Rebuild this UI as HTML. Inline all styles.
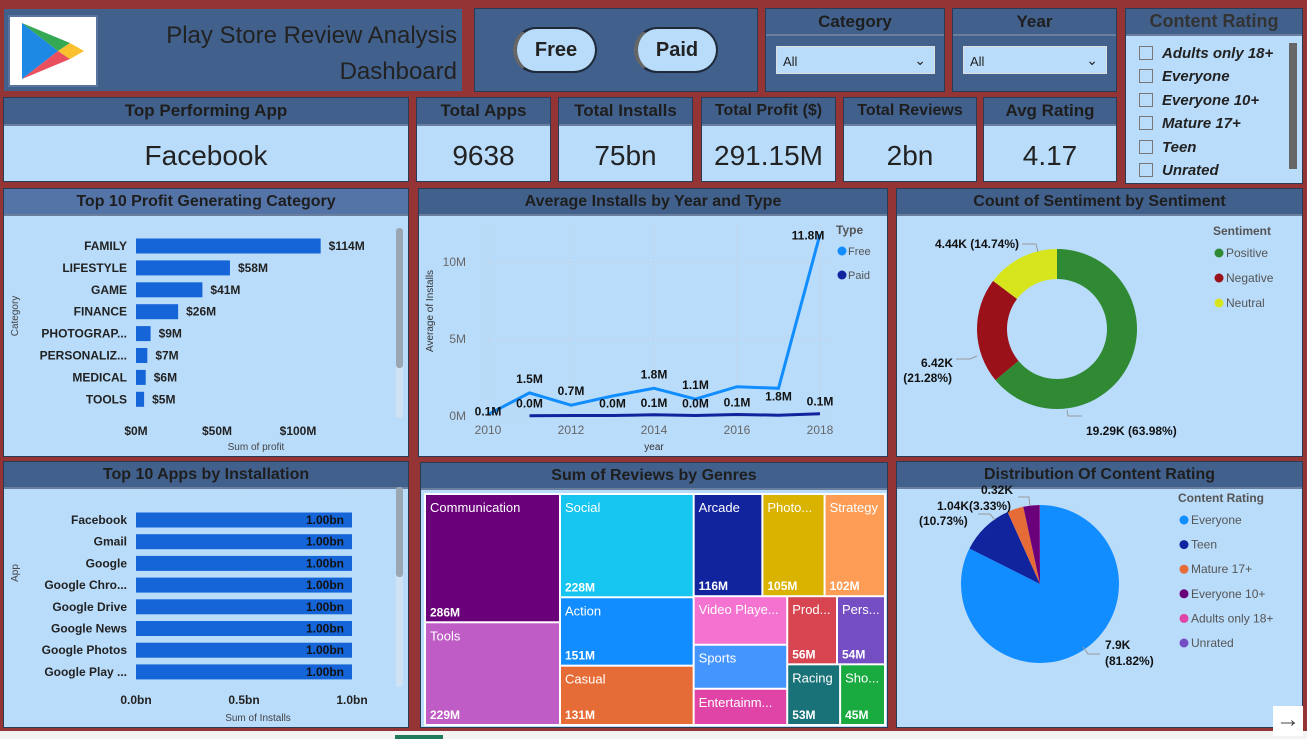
<!DOCTYPE html>
<html><head><meta charset="utf-8">
<style>
*{margin:0;padding:0;box-sizing:border-box}
body{width:1307px;height:739px;background:#953434;position:relative;overflow:hidden;font-family:"Liberation Sans",sans-serif;color:#222}
.p{position:absolute;background:#b9dcfb;border:1px solid #2a3b55}
.h{position:absolute;left:0;right:0;top:0;background:#41608c;font-weight:bold;text-align:center;color:#1e1e1e;border-bottom:2px solid #6a7f9e;white-space:nowrap}
.dark{background:#41608c}
.kv{position:absolute;left:0;right:0;text-align:center;font-size:28px;color:#222}
svg text{font-family:"Liberation Sans",sans-serif}
</style></head><body>
<div class="p dark" style="left:3px;top:8px;width:460px;height:84px;border-color:#953434">
  <div style="position:absolute;left:4px;top:6px;width:90px;height:72px;background:#fff;border:2px solid #5a74a0">
    <svg width="86" height="68" viewBox="0 0 86 68"><polygon points="12,6 48,34 12,62" fill="#1e88e5"/><polygon points="12,6 60,26 48,34" fill="#34a853"/><polygon points="12,62 60,42 48,34" fill="#ea4f5d"/><polygon points="48,34 60,26 74,34 60,42" fill="#fbc02d"/></svg>
  </div>
  <div style="position:absolute;right:5px;top:9px;font-size:24px;line-height:36px;text-align:right;color:#222">Play Store Review Analysis<br>Dashboard</div>
</div>
<div class="p dark" style="left:474px;top:8px;width:284px;height:84px">
  <div style="position:absolute;left:38px;top:18px;width:84px;height:46px;border-radius:23px;background:#b9dcfb;border:2px solid #1e2a3a;border-left:4px solid #666;font-weight:bold;font-size:20px;text-align:center;line-height:42px">Free</div>
  <div style="position:absolute;left:159px;top:18px;width:84px;height:46px;border-radius:23px;background:#b9dcfb;border:2px solid #1e2a3a;border-left:4px solid #666;font-weight:bold;font-size:20px;text-align:center;line-height:42px">Paid</div>
</div>
<div class="p dark" style="left:765px;top:8px;width:180px;height:84px">
  <div class="h" style="height:27px;font-size:17px;line-height:25px">Category</div>
  <div style="position:absolute;left:10px;top:37px;width:159px;height:28px;background:#b9dcfb;border:1px solid #ddd;font-size:13px;line-height:30px;padding-left:6px">All<span style="position:absolute;right:8px;top:-2px;font-size:14px">&#8964;</span></div>
</div>
<div class="p dark" style="left:952px;top:8px;width:165px;height:84px">
  <div class="h" style="height:27px;font-size:17px;line-height:25px">Year</div>
  <div style="position:absolute;left:10px;top:37px;width:144px;height:28px;background:#b9dcfb;border:1px solid #ddd;font-size:13px;line-height:30px;padding-left:6px">All<span style="position:absolute;right:8px;top:-2px;font-size:14px">&#8964;</span></div>
</div>
<div class="p" style="left:1125px;top:8px;width:178px;height:176px">
  <div class="h" style="height:27px;font-size:18px;line-height:25px;color:#333">Content Rating</div>
  <div id="crlist"></div>
  <div style="position:absolute;left:163px;top:34px;width:8px;height:126px;background:#666"></div>
</div>
<div class="p" style="left:3px;top:97px;width:406px;height:85px"><div class="h" style="height:28px;font-size:17px;line-height:26px">Top Performing App</div><div class="kv" style="top:42px">Facebook</div></div>
<div class="p" style="left:416px;top:97px;width:135px;height:85px"><div class="h" style="height:28px;font-size:17px;line-height:26px">Total Apps</div><div class="kv" style="top:42px">9638</div></div>
<div class="p" style="left:558px;top:97px;width:135px;height:85px"><div class="h" style="height:28px;font-size:17px;line-height:26px">Total Installs</div><div class="kv" style="top:42px">75bn</div></div>
<div class="p" style="left:701px;top:97px;width:135px;height:85px"><div class="h" style="height:28px;font-size:16px;line-height:26px">Total Profit ($)</div><div class="kv" style="top:42px">291.15M</div></div>
<div class="p" style="left:843px;top:97px;width:134px;height:85px"><div class="h" style="height:28px;font-size:16px;line-height:26px">Total Reviews</div><div class="kv" style="top:42px">2bn</div></div>
<div class="p" style="left:983px;top:97px;width:134px;height:85px"><div class="h" style="height:28px;font-size:17px;line-height:26px">Avg Rating</div><div class="kv" style="top:42px">4.17</div></div>
<div class="p" style="left:3px;top:188px;width:406px;height:269px"><div class="h" style="height:27px;font-size:16px;line-height:25px;background:#5474a8">Top 10 Profit Generating Category</div></div>
<div class="p" style="left:418px;top:188px;width:470px;height:269px"><div class="h" style="height:27px;font-size:16px;line-height:25px">Average Installs by Year and Type</div></div>
<div class="p" style="left:896px;top:188px;width:407px;height:269px"><div class="h" style="height:27px;font-size:16px;line-height:25px">Count of Sentiment by Sentiment</div></div>
<div class="p" style="left:3px;top:461px;width:406px;height:267px"><div class="h" style="height:27px;font-size:16px;line-height:25px">Top 10 Apps by Installation</div></div>
<div class="p" style="left:420px;top:462px;width:468px;height:266px"><div class="h" style="height:27px;font-size:16px;line-height:25px">Sum of Reviews by Genres</div></div>
<div class="p" style="left:896px;top:461px;width:407px;height:267px"><div class="h" style="height:27px;font-size:16px;line-height:25px">Distribution Of Content Rating</div></div>
<div style="position:absolute;left:0;top:731px;width:1307px;height:8px;background:#f3f3f3"><div style="position:absolute;left:395px;top:4px;width:48px;height:4px;background:#1f7a5a"></div></div>
<div style="position:absolute;left:1273px;top:706px;width:30px;height:30px;background:#fff;font-size:24px;line-height:28px;text-align:center;color:#444">&#8594;</div>

<svg id="c" width="1307" height="739" style="position:absolute;left:0;top:0" xmlns="http://www.w3.org/2000/svg"></svg>

<script>
const crItems=["Adults only 18+","Everyone","Everyone 10+","Mature 17+","Teen","Unrated"];
const profitCats=["FAMILY","LIFESTYLE","GAME","FINANCE","PHOTOGRAP...","PERSONALIZ...","MEDICAL","TOOLS"];
const profitVals=[114,58,41,26,9,7,6,5];
const profitTicks=[0,50,100];
const appNames=["Facebook","Gmail","Google","Google Chro...","Google Drive","Google News","Google Photos","Google Play ..."];
const appVals=[1.0,1.0,1.0,1.0,1.0,1.0,1.0,1.0];
const appTicks=[0,0.5,1.0];
const years=[2010,2011,2012,2013,2014,2015,2016,2017,2018];
const freeVals=[0.1,1.5,0.7,1.3,1.8,1.1,1.9,1.8,11.8];
const freeLabels=["0.1M","1.5M","0.7M","","1.8M","1.1M","","1.8M","11.8M"];
const paidYears=[2011,2012,2013,2014,2015,2016,2017,2018];
const paidVals=[0.02,0.03,0.03,0.08,0.03,0.1,0.05,0.15];
const paidLabels=["0.0M","","0.0M","0.1M","0.0M","0.1M","","0.1M"];
const yTicks=[0,5,10];
const xTicks=[2010,2012,2014,2016,2018];
const sentNames=["Positive","Negative","Neutral"];
const sentVals=[19.29,6.42,4.44];
const sentLabels=["19.29K (63.98%)","6.42K (21.28%)","4.44K (14.74%)"];
const crNames=["Everyone","Teen","Mature 17+","Everyone 10+","Adults only 18+","Unrated"];
const crVals=[7.9,1.04,0.32,0.32,0.003,0.002];
const genreNames=["Communication","Tools","Social","Action","Casual","Arcade","Photo...","Strategy","Video Playe...","Sports","Entertainm...","Prod...","Pers...","Racing","Sho..."];
const genreVals=[286,229,228,151,131,116,105,102,75,68,56,56,54,53,45];
const genreLabels=["286M","229M","228M","151M","131M","116M","105M","102M","","","","56M","54M","53M","45M"];

const svg=document.getElementById('c');const NS='http://www.w3.org/2000/svg';
function el(t,a,txt){const e=document.createElementNS(NS,t);for(const k in a)e.setAttribute(k,a[k]);if(txt!==undefined)e.textContent=txt;svg.appendChild(e);return e;}

const crl=document.getElementById('crlist');
crItems.forEach((n,i)=>{const d=document.createElement('div');


d.style.cssText=`position:absolute;left:13px;top:${37+i*23.4}px;font-size:15px;font-weight:bold;font-style:italic;white-space:nowrap;line-height:16px`;
d.innerHTML=`<span style="display:inline-block;width:14px;height:14px;border:1px solid #777;vertical-align:-2px;margin-right:9px"></span>${n}`;crl.appendChild(d);});

(function(){const x0=136,sc=1.62,y0=246,step=21.9,bh=15;
const xs=v=>x0+v*sc;
profitTicks.forEach(t=>{el('line',{x1:xs(t),x2:xs(t),y1:225,y2:418,stroke:'#c8d8e8','stroke-dasharray':'1,3'});
const tl=el('text',{x:xs(t),y:435,'text-anchor':'middle','font-size':12,'font-weight':'bold',fill:'#222'},'$'+t+'M');});
profitCats.forEach((c,i)=>{const y=y0+i*step;
const l=el('text',{x:127,y:y+4,'text-anchor':'end','font-size':12,'font-weight':'bold',fill:'#222'},c);
const r=el('rect',{x:x0,y:y-bh/2,width:profitVals[i]*sc,height:bh,fill:'#1565d8'});
const v=el('text',{x:xs(profitVals[i])+8,y:y+4,'font-size':12,'font-weight':'bold',fill:'#222'},'$'+profitVals[i]+'M');});
const t=el('text',{x:256,y:450,'text-anchor':'middle','font-size':10,fill:'#444'},'Sum of profit');
const yt=el('text',{x:0,y:0,transform:'translate(18,316) rotate(-90)','text-anchor':'middle','font-size':10,fill:'#444'},'Category');
const sb=el('rect',{x:396,y:228,width:7,height:190,rx:3,fill:'#cfe2f3'});
const th=el('rect',{x:396,y:228,width:7,height:140,rx:3,fill:'#9aa6b2'});
})();

(function(){const x0=136,sc=216,y0=520,step=21.7,bh=15;const xs=v=>x0+v*sc;
appTicks.forEach(t=>{el('line',{x1:xs(t),x2:xs(t),y1:490,y2:690,stroke:'#c8d8e8','stroke-dasharray':'1,3'});
const tl=el('text',{x:xs(t),y:704,'text-anchor':'middle','font-size':12,'font-weight':'bold',fill:'#222'},t.toFixed(1)+'bn');});
appNames.forEach((n,i)=>{const y=y0+i*step;
const l=el('text',{x:127,y:y+4,'text-anchor':'end','font-size':12,'font-weight':'bold',fill:'#222'},n);
const r=el('rect',{x:x0,y:y-bh/2,width:appVals[i]*sc,height:bh,fill:'#1565d8'});
const v=el('text',{x:xs(appVals[i])-8,y:y+4,'text-anchor':'end','font-size':12,'font-weight':'bold',fill:'#111'},appVals[i].toFixed(2)+'bn');});
const t=el('text',{x:258,y:721,'text-anchor':'middle','font-size':10,fill:'#444'},'Sum of Installs');
const yt=el('text',{x:0,y:0,transform:'translate(18,573) rotate(-90)','text-anchor':'middle','font-size':10,fill:'#444'},'App');
el('rect',{x:396,y:487,width:7,height:200,rx:3,fill:'#cfe2f3'});
const th=el('rect',{x:396,y:487,width:7,height:90,rx:3,fill:'#9aa6b2'});
})();

(function(){const xs=y=>488+(y-2010)*41.5, ys=v=>416-v*15.4;
yTicks.forEach(t=>{el('line',{x1:488,x2:830,y1:ys(t),y2:ys(t),stroke:'#d8c8c0','stroke-dasharray':'1,3'});
const l=el('text',{x:466,y:ys(t)+4,'text-anchor':'end','font-size':12,fill:'#666'},t+'M');});
xTicks.forEach(t=>{el('line',{x1:xs(t),x2:xs(t),y1:225,y2:416,stroke:'#d8c8c0','stroke-dasharray':'1,3'});
const l=el('text',{x:xs(t),y:434,'text-anchor':'middle','font-size':12,fill:'#666'},t);});
const fp=el('polyline',{points:years.map((y,i)=>xs(y)+','+ys(freeVals[i])).join(' '),fill:'none',stroke:'#118dff','stroke-width':3});
const pp=el('polyline',{points:paidYears.map((y,i)=>xs(y)+','+ys(paidVals[i])).join(' '),fill:'none',stroke:'#12239e','stroke-width':3});
years.forEach((y,i)=>{if(!freeLabels[i])return;let ly=ys(freeVals[i])-10;if(i===0)ly=ys(freeVals[i])+1;if(i===7)ly=ys(freeVals[i])+12;if(i===8)ly=ys(freeVals[i])+5;
const l=el('text',{x:xs(y)-(i===8?12:0),y:ly,'text-anchor':'middle','font-size':12,'font-weight':'bold',fill:'#111'},freeLabels[i]);});
paidYears.forEach((y,i)=>{if(!paidLabels[i])return;const l=el('text',{x:xs(y),y:ys(paidVals[i])-8,'text-anchor':'middle','font-size':12,'font-weight':'bold',fill:'#111'},paidLabels[i]);});
const at=el('text',{x:0,y:0,transform:'translate(433,311) rotate(-90)','text-anchor':'middle','font-size':10,fill:'#333'},'Average of Installs');
const xt=el('text',{x:654,y:450,'text-anchor':'middle','font-size':10,fill:'#333'},'year');
el('text',{x:836,y:234,'font-size':12,'font-weight':'bold',fill:'#555'},'Type');
[['Free','#118dff'],['Paid','#12239e']].forEach((d,i)=>{const c=el('circle',{cx:842,cy:251+i*24,r:4.5,fill:d[1]});
const t=el('text',{x:848,y:255+i*24,'font-size':11,fill:'#555'},d[0]);});
})();

function arc(cx,cy,r,ri,a0,a1){const p=(a,R)=>[cx+R*Math.sin(a),cy-R*Math.cos(a)];const lg=(a1-a0)>Math.PI?1:0;
const [x0,y0]=p(a0,r),[x1,y1]=p(a1,r);if(ri>0){const [x2,y2]=p(a1,ri),[x3,y3]=p(a0,ri);
return `M${x0},${y0}A${r},${r} 0 ${lg} 1 ${x1},${y1}L${x2},${y2}A${ri},${ri} 0 ${lg} 0 ${x3},${y3}Z`;}
return `M${cx},${cy}L${x0},${y0}A${r},${r} 0 ${lg} 1 ${x1},${y1}Z`;}

(function(){const cx=1057,cy=329,r=80,ri=50,cols=['#2f8a33','#9b1119','#d7e61c'];const tot=sentVals.reduce((a,b)=>a+b,0);let a=0;
sentVals.forEach((v,i)=>{const a1=a+v/tot*2*Math.PI;const p=el('path',{d:arc(cx,cy,r,ri,a,a1),fill:cols[i]});a=a1;});
const l1=el('text',{x:1086,y:435,'font-size':12,'font-weight':'bold',fill:'#111'},sentLabels[0]);
el('polyline',{points:'1067,410 1068,416 1082,416',fill:'none',stroke:'#999'});
const l2a=el('text',{x:953,y:367,'text-anchor':'end','font-size':12,'font-weight':'bold',fill:'#111'},'6.42K');
el('text',{x:952,y:382,'text-anchor':'end','font-size':12,'font-weight':'bold',fill:'#111'},'(21.28%)');
el('polyline',{points:'956,359 970,359 977,356',fill:'none',stroke:'#999'});
const l3=el('text',{x:1019,y:248,'text-anchor':'end','font-size':12,'font-weight':'bold',fill:'#111'},sentLabels[2]);
el('polyline',{points:'1022,244 1036,244 1038,252',fill:'none',stroke:'#999'});
el('text',{x:1213,y:235,'font-size':12,'font-weight':'bold',fill:'#555'},'Sentiment');
sentNames.forEach((n,i)=>{const c=el('circle',{cx:1219,cy:253+i*25,r:4.5,fill:cols[i]});
const t=el('text',{x:1226,y:257+i*25,'font-size':12,fill:'#555'},n);});
})();

(function(){const cx=1040,cy=584,r=79,cols=['#118dff','#12239e','#e66c37','#6b007b','#e044a7','#744ec2'];const tot=crVals.reduce((a,b)=>a+b,0);let a=0;
crVals.forEach((v,i)=>{const a1=a+v/tot*2*Math.PI;const p=el('path',{d:arc(cx,cy,r,0,a,a1),fill:cols[i]});a=a1;});
const L=(x,y,t,an)=>{const e=el('text',{x:x,y:y,'text-anchor':an||'start','font-size':12,'font-weight':'bold',fill:'#111'},t);};
L(981,494,'0.32K');L(937,510,'1.04K(3.33%)');L(919,525,'(10.73%)');L(1105,649,'7.9K');L(1105,665,'(81.82%)');
el('polyline',{points:'1018,497 1029,497 1030,506',fill:'none',stroke:'#999'});
el('polyline',{points:'978,514 990,514 995,520',fill:'none',stroke:'#999'});
el('polyline',{points:'1083,647 1088,654 1100,654',fill:'none',stroke:'#999'});
el('text',{x:1178,y:502,'font-size':12,'font-weight':'bold',fill:'#555'},'Content Rating');
crNames.forEach((n,i)=>{const c=el('circle',{cx:1184,cy:520+i*24.6,r:4.5,fill:cols[i]});
const t=el('text',{x:1191,y:524+i*24.6,'font-size':12,fill:'#555'},n);});
})();

(function(){const cols=['#6b007b','#c05cc6','#16c5f0','#118dff','#e66c37','#12239e','#d9b300','#fd9d55','#f472d0','#4595ff','#e044a7','#d64550','#744ec2','#197278','#1aab40'];
const tree={d:'h',c:[{d:'v',c:[0,1]},{d:'v',c:[2,3,4]},{d:'v',c:[{d:'h',c:[5,6,7]},{d:'h',c:[{d:'v',c:[8,9,10]},{d:'v',c:[{d:'h',c:[11,12]},{d:'h',c:[13,14]}]}]}]}]};
const sum=n=>typeof n==='number'?genreVals[n]:n.c.reduce((s,k)=>s+sum(k),0);
function lay(n,x,y,w,h){if(typeof n==='number'){
const r=el('rect',{x:x+1,y:y+1,width:w-2,height:h-2,fill:cols[n]});
const t=el('text',{x:x+5,y:y+18,'font-size':13,fill:'#fff'},genreNames[n]);
if(genreLabels[n]){const v=el('text',{x:x+5,y:y+h-6,'font-size':12,'font-weight':'bold',fill:'#fff'},genreLabels[n]);}
return;}
const tot=sum(n);let o=0;n.c.forEach(k=>{const f=sum(k)/tot;if(n.d==='h'){lay(k,x+o,y,w*f,h);o+=w*f;}else{lay(k,x,y+o,w,h*f);o+=h*f;}});}
el('rect',{x:424,y:493,width:462,height:233,fill:'#fff'});
lay(tree,425,494,460,231);
})();
</script>
</body></html>
